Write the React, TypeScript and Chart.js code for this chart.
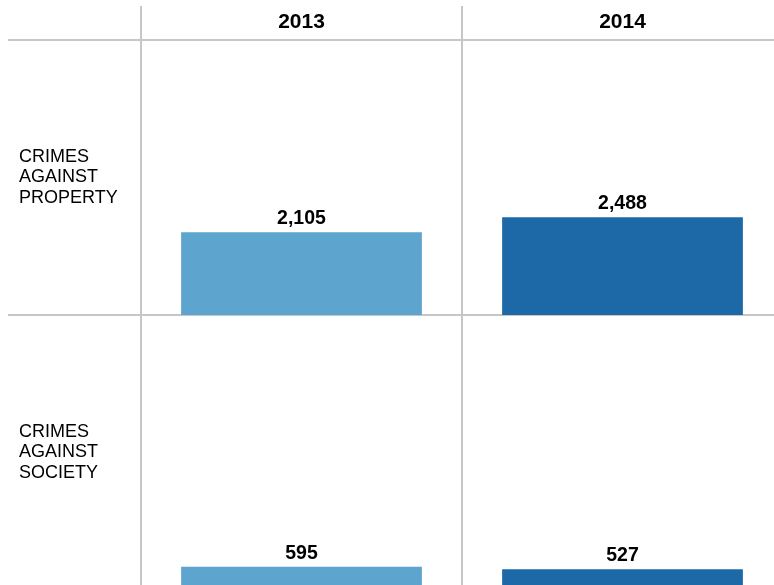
import React, { useEffect, useRef } from "react";
import { Chart, registerables } from "chart.js";

Chart.register(...registerables);

const years = ["2013", "2014"];
const rowLabels = [
  ["CRIMES", "AGAINST", "PROPERTY"],
  ["CRIMES", "AGAINST", "SOCIETY"],
];
const propertyValues = [2105, 2488];
const societyValues = [595, 527];
const barColors = ["#5DA5CE", "#1D68A7"];
const rowMax = 7000;

const FONT = '"Liberation Sans", Arial, Helvetica, sans-serif';
const GRID = "#c6c6c6";

const valueLabels = {
  id: "valueLabels",
  afterDatasetsDraw(chart: any) {
    const ctx = chart.ctx;
    ctx.save();
    ctx.font = `bold 19.5px ${FONT}`;
    ctx.fillStyle = "#000";
    ctx.textAlign = "center";
    ctx.textBaseline = "alphabetic";
    chart.data.datasets.forEach((ds: any, di: number) => {
      const meta = chart.getDatasetMeta(di);
      meta.data.forEach((bar: any, i: number) => {
        ctx.fillText(Number(ds.data[i]).toLocaleString("en-US"), bar.x, bar.y - 8);
      });
    });
    ctx.restore();
  },
};

export default function App() {
  const ref = useRef<HTMLCanvasElement | null>(null);

  useEffect(() => {
    if (!ref.current) return;
    const chart = new Chart(ref.current, {
      type: "bar",
      data: {
        labels: years,
        datasets: [
          {
            label: "Crimes against property",
            data: propertyValues,
            backgroundColor: barColors,
            xAxisID: "x",
            yAxisID: "yP",
            grouped: false,
            barPercentage: 0.75,
            categoryPercentage: 1,
          } as any,
          {
            label: "Crimes against society",
            data: societyValues,
            backgroundColor: barColors,
            xAxisID: "x",
            yAxisID: "yS",
            grouped: false,
            barPercentage: 0.75,
            categoryPercentage: 1,
          } as any,
        ],
      },
      options: {
        responsive: false,
        animation: false,
        devicePixelRatio: 1,
        layout: { padding: { left: 19, top: 6, right: 17, bottom: 10 } },
        plugins: { legend: { display: false }, tooltip: { enabled: false } },
        scales: {
          x: {
            type: "category",
            position: "top",
            labels: years,
            offset: true,
            grid: { offset: true, color: GRID, lineWidth: 2, tickLength: 34, drawTicks: true },
            border: { display: false },
            ticks: {
              color: "#000",
              padding: -29,
              font: { family: FONT, size: 21, weight: "bold", lineHeight: 1.2 },
            },
            afterFit: (s: any) => {
              s.height = 34;
              s.paddingLeft = 0;
              s.paddingRight = 0;
            },
          } as any,
          rows: {
            type: "category",
            position: "left",
            labels: rowLabels as any,
            offset: true,
            weight: 0,
            z: 1,
            grid: { offset: true, color: GRID, lineWidth: 2, tickLength: 133, drawTicks: true },
            border: { display: false },
            ticks: {
              crossAlign: "far",
              color: "#000",
              font: { family: FONT, size: 18, lineHeight: 1.14 },
            },
            afterFit: (s: any) => {
              s.width = 122;
              s.paddingTop = 0;
              s.paddingBottom = 0;
            },
          } as any,
          yP: {
            type: "linear",
            position: "left",
            display: false,
            min: 0,
            max: rowMax,
            stack: "rows",
            stackWeight: 1,
            weight: 2,
          } as any,
          yS: {
            type: "linear",
            position: "left",
            display: false,
            min: 0,
            max: rowMax,
            stack: "rows",
            stackWeight: 1,
            weight: 1,
          } as any,
        },
      },
      plugins: [valueLabels],
    });
    return () => chart.destroy();
  }, []);

  return (
    <div
      style={{
        position: "fixed",
        left: 0,
        top: 0,
        width: 774,
        height: 585,
        overflow: "hidden",
        background: "#fff",
      }}
    >
      <canvas ref={ref} width={800} height={600} style={{ display: "block" }} />
    </div>
  );
}
